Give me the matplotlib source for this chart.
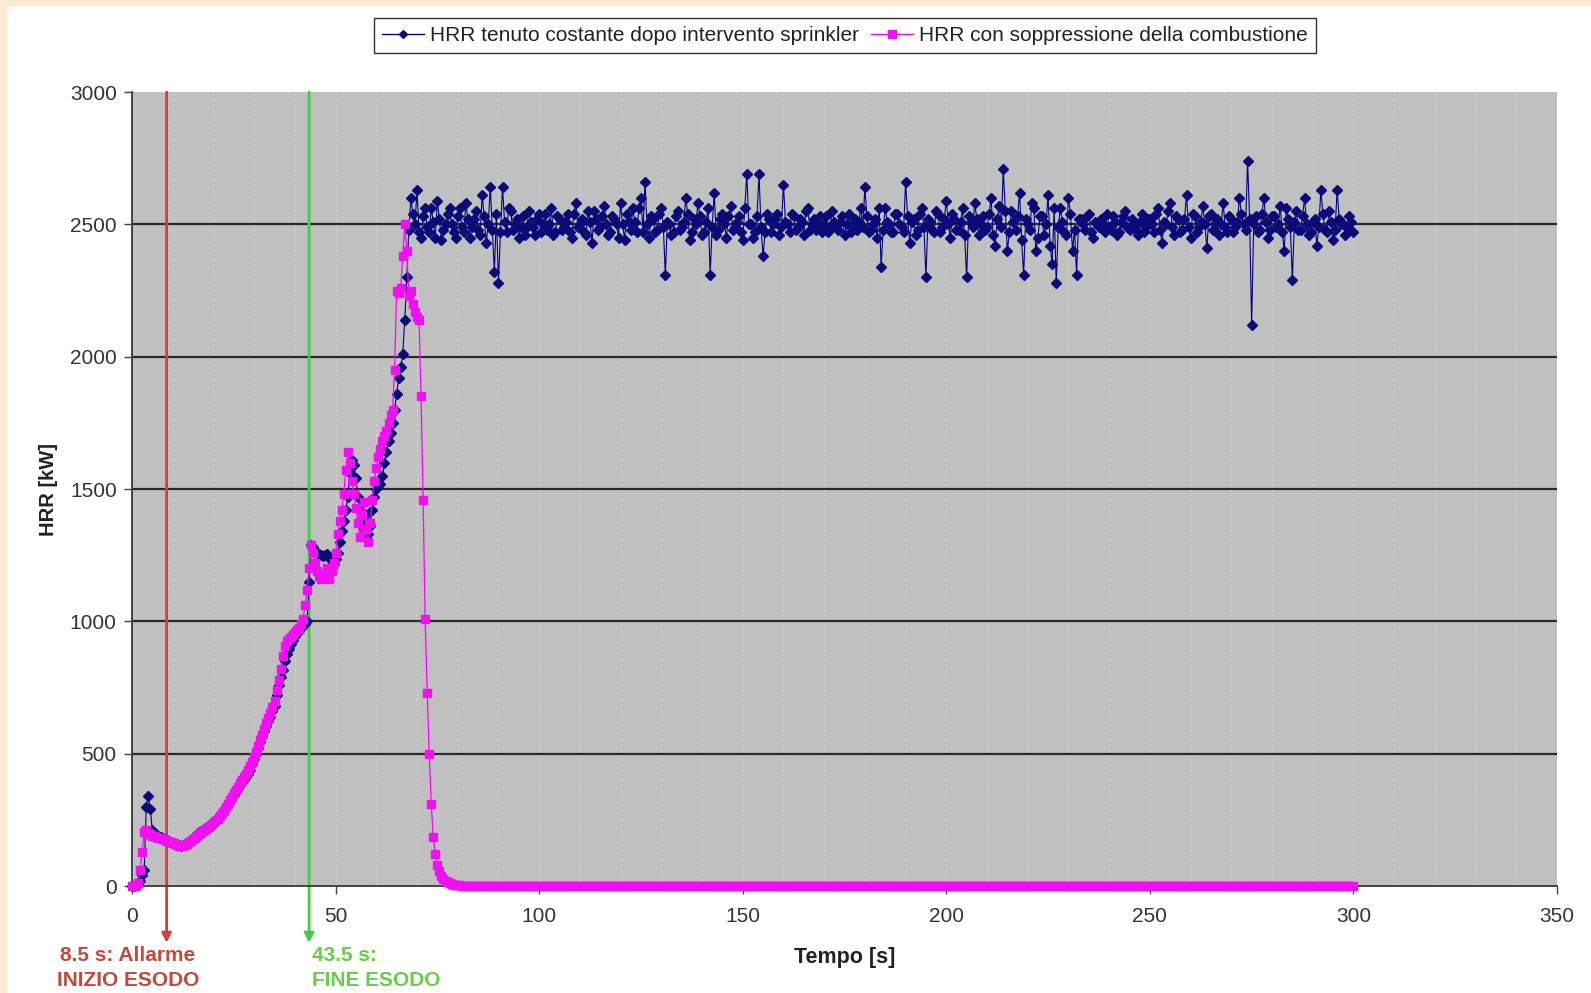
import numpy as np
import matplotlib
matplotlib.use("Agg")
import matplotlib.pyplot as plt
from matplotlib.lines import Line2D
from matplotlib.patches import Rectangle

plt.rcParams['font.family'] = ['Liberation Sans', 'DejaVu Sans']

# ---- data -------------------------------------------------------------
# Growth phase, one sample every 0.5 s starting at t = 0 s
hrr_sprinkler_early = [
    0, 0, 5, 10, 20, 40, 60, 300, 340, 290,
    210, 200, 195, 190, 185, 182, 178, 175, 170, 167,
    163, 160, 158, 155, 153, 155, 158, 162, 168, 175,
    182, 190, 197, 203, 208, 213, 218, 222, 228, 235,
    243, 250, 258, 267, 276, 286, 298, 310, 322, 335,
    345, 358, 370, 382, 393, 400, 410, 425, 440, 460,
    480, 500, 520, 545, 565, 585, 605, 625, 640, 660,
    680, 720, 760, 790, 815, 850, 875, 895, 915, 930,
    945, 955, 965, 975, 985, 990, 1000, 1150, 1290, 1280,
    1265, 1260, 1255, 1250, 1245, 1250, 1255, 1240, 1200, 1215,
    1235, 1260, 1300, 1340, 1380, 1420, 1470, 1560, 1610, 1590,
    1540, 1470, 1420, 1380, 1350, 1400, 1330, 1360, 1420, 1470,
    1500, 1510, 1520, 1550, 1600, 1640, 1680, 1710, 1750, 1800,
    1860, 1920, 1960, 2010, 2140, 2300,
]
hrr_soppressione_early = [
    0, 0, 0, 10, 60, 130, 205, 210, 200, 195,
    190, 188, 185, 182, 180, 177, 174, 171, 168, 165,
    161, 158, 155, 153, 152, 153, 156, 160, 165, 171,
    177, 183, 190, 196, 202, 208, 213, 218, 224, 231,
    238, 246, 255, 264, 274, 285, 297, 310, 324, 338,
    350, 362, 375, 388, 400, 412, 425, 438, 452, 470,
    488, 508, 528, 550, 572, 594, 616, 636, 655, 675,
    700, 740, 780, 820, 870, 905, 925, 935, 940, 950,
    958, 966, 975, 990, 1010, 1060, 1120, 1200, 1290, 1260,
    1220, 1190, 1170, 1160, 1170, 1180, 1200, 1160, 1190, 1220,
    1260, 1330, 1380, 1420, 1480, 1570, 1640, 1600, 1530, 1480,
    1430, 1370, 1320, 1400, 1450, 1350, 1300, 1370, 1460, 1530,
    1580, 1620, 1650, 1680, 1700, 1720, 1750, 1780, 1800, 1950,
    2250, 2240, 2260, 2380, 2500, 2400,
]

# Sprinkler case, HRR held constant: samples at whole seconds from t = 68 s
hrr_sprinkler_plateau_whole = [
    2480, 2540, 2630, 2450, 2560, 2470, 2510, 2590, 2440, 2500,
    2560, 2470, 2530, 2490, 2580, 2450, 2520, 2480, 2610, 2430,
    2640, 2320, 2280, 2640, 2470, 2550, 2500, 2450, 2530, 2490,
    2510, 2460, 2540, 2500, 2480, 2560, 2470, 2520, 2490, 2540,
    2450, 2580, 2500, 2470, 2550, 2430, 2520, 2490, 2570, 2460,
    2530, 2500, 2580, 2440, 2510, 2560, 2470, 2600, 2660, 2450,
    2520, 2480, 2560, 2310, 2500, 2470, 2550, 2490, 2600, 2440,
    2520, 2580, 2460, 2510, 2310, 2620, 2480, 2540, 2450, 2570,
    2490, 2530, 2440, 2690, 2500, 2470, 2690, 2380, 2540, 2470,
    2520, 2460, 2650, 2500, 2540, 2480, 2520, 2460, 2560, 2500,
    2480, 2530, 2500, 2470, 2550, 2490, 2510, 2460, 2540, 2500,
    2480, 2560, 2640, 2470, 2500, 2450, 2340, 2560, 2500, 2470,
    2540, 2490, 2660, 2430, 2520, 2480, 2560, 2300, 2510, 2470,
    2540, 2490, 2590, 2450, 2520, 2480, 2560, 2300, 2510, 2580,
    2460, 2530, 2490, 2600, 2420, 2570, 2710, 2400, 2550, 2480,
    2620, 2310, 2500, 2580, 2400, 2530, 2460, 2610, 2350, 2280,
    2560, 2470, 2600, 2400, 2310, 2520, 2480, 2540, 2450, 2500,
    2520, 2470, 2490, 2530, 2460, 2510, 2550, 2480, 2500, 2460,
    2540, 2490, 2520, 2470, 2560, 2430, 2500, 2580, 2460, 2520,
    2480, 2610, 2450, 2530, 2490, 2570, 2410, 2540, 2500, 2460,
    2580, 2470, 2520, 2490, 2600, 2500, 2740, 2120, 2530, 2480,
    2600, 2450, 2530, 2490, 2570, 2400, 2520, 2290, 2550, 2480,
    2600, 2460, 2510, 2420, 2630, 2480, 2550, 2440, 2630, 2500,
    2460, 2530, 2470,
]
# ... and the samples in between (t = 68.5 s, 69.5 s, ...)
hrr_sprinkler_plateau_half = [
    2600, 2500, 2470, 2530, 2490, 2560, 2450, 2520, 2480, 2540,
    2500, 2450, 2560, 2470, 2520, 2490, 2550, 2460, 2530, 2500,
    2480, 2540, 2470, 2510, 2560, 2480, 2520, 2490, 2460, 2550,
    2490, 2520, 2470, 2540, 2500, 2460, 2530, 2480, 2510, 2470,
    2540, 2490, 2520, 2460, 2510, 2550, 2480, 2530, 2500, 2470,
    2520, 2450, 2500, 2540, 2480, 2510, 2560, 2470, 2500, 2530,
    2470, 2540, 2490, 2510, 2460, 2530, 2480, 2510, 2540, 2470,
    2500, 2530, 2470, 2560, 2490, 2460, 2520, 2500, 2530, 2480,
    2510, 2470, 2560, 2500, 2450, 2530, 2490, 2470, 2520, 2500,
    2540, 2490, 2510, 2470, 2530, 2490, 2510, 2550, 2480, 2520,
    2500, 2470, 2530, 2490, 2510, 2480, 2530, 2500, 2470, 2520,
    2510, 2490, 2530, 2480, 2520, 2560, 2480, 2510, 2470, 2540,
    2500, 2470, 2530, 2510, 2460, 2540, 2490, 2520, 2480, 2550,
    2470, 2520, 2500, 2540, 2480, 2510, 2460, 2530, 2490, 2520,
    2500, 2480, 2540, 2460, 2520, 2490, 2550, 2470, 2510, 2530,
    2440, 2520, 2480, 2560, 2450, 2530, 2500, 2420, 2560, 2490,
    2510, 2460, 2540, 2480, 2520, 2500, 2530, 2470, 2510, 2490,
    2500, 2540, 2480, 2510, 2470, 2530, 2490, 2520, 2480, 2510,
    2470, 2520, 2500, 2540, 2480, 2510, 2550, 2490, 2530, 2470,
    2520, 2490, 2540, 2470, 2510, 2500, 2530, 2480, 2520, 2500,
    2490, 2530, 2470, 2510, 2540, 2480, 2520, 2500, 2470, 2540,
    2510, 2480, 2530, 2500, 2470, 2560, 2490, 2510, 2480, 2530,
    2500, 2470, 2520, 2490, 2540, 2470, 2510, 2480, 2520, 2500,
    2490, 2510,
]

# Suppression case: decay after sprinkler activation, every 0.5 s from t = 68 s
hrr_soppressione_decay = [
    2230, 2250, 2200, 2170, 2150, 2140, 1850, 1460, 1010, 730,
    500, 310, 185, 120, 80, 55, 38, 27, 19, 14,
    10, 7, 5, 4, 3, 2, 1, 1, 0,
]
hrr_soppressione_tail_value = 0   # extinguished until end of simulation

t_start_plateau = 68.0
t_end = 300.0
t_allarme = 8.5
t_fine_esodo = 43.5

x_ticks = [0, 50, 100, 150, 200, 250, 300, 350]
y_ticks = [0, 500, 1000, 1500, 2000, 2500, 3000]

label_sprinkler = "HRR tenuto costante dopo intervento sprinkler"
label_soppressione = "HRR con soppressione della combustione"

# ---- series assembly ---------------------------------------------------
t_early = 0.5 * np.arange(len(hrr_sprinkler_early))

n_plateau = len(hrr_sprinkler_plateau_whole) + len(hrr_sprinkler_plateau_half)
t_plateau = t_start_plateau + 0.5 * np.arange(n_plateau)
y_plateau = np.empty(n_plateau)
y_plateau[0::2] = hrr_sprinkler_plateau_whole
y_plateau[1::2] = hrr_sprinkler_plateau_half

t_decay = t_start_plateau + 0.5 * np.arange(len(hrr_soppressione_decay))
t_tail = np.arange(t_decay[-1] + 0.5, t_end + 0.01, 0.5)

t_sprinkler = np.concatenate([t_early, t_plateau])
y_sprinkler = np.concatenate([hrr_sprinkler_early, y_plateau])
t_soppr = np.concatenate([t_early, t_decay, t_tail])
y_soppr = np.concatenate([hrr_soppressione_early, hrr_soppressione_decay,
                          np.full(len(t_tail), hrr_soppressione_tail_value)])

# ---- figure --------------------------------------------------------------
W, H = 1591, 993
fig = plt.figure(figsize=(W / 100, H / 100), dpi=100)
fig.patch.set_facecolor('white')

cream = '#FBEBD3'
fig.patches.append(Rectangle((0, 1 - 6 / H), 1, 6 / H, transform=fig.transFigure,
                             facecolor=cream, edgecolor='none', zorder=0))
fig.patches.append(Rectangle((0, 0), 7 / W, 1, transform=fig.transFigure,
                             facecolor=cream, edgecolor='none', zorder=0))

left, right, top, bottom = 132, 1557, 92, 886
ax = fig.add_axes([left / W, 1 - bottom / H, (right - left) / W, (bottom - top) / H])
ax.set_facecolor('#C0C0C0')
ax.set_xlim(0, 350)
ax.set_ylim(0, 3000)

# grid: faint dashed verticals every 10 s, dark horizontals
for xv in np.arange(10, 350, 10):
    ax.axvline(xv, color='#D3D3D3', lw=0.9, ls=(0, (2, 2)), zorder=0.5)
for yv in y_ticks[1:-1]:
    ax.axhline(yv, color='#2A2A2A', lw=1.6, zorder=0.6)

for side in ('top', 'right'):
    ax.spines[side].set_visible(False)
for side in ('left', 'bottom'):
    ax.spines[side].set_color('#444444')
    ax.spines[side].set_linewidth(1.4)

ax.set_xticks(x_ticks)
ax.set_yticks(y_ticks)
ax.tick_params(axis='both', direction='out', length=6, width=1, color='#444444',
               labelsize=15, labelcolor='#333333')
ax.tick_params(axis='x', pad=9)
ax.tick_params(axis='y', pad=5)

# series
ax.plot(t_sprinkler, y_sprinkler, color='#000080', lw=0.8, marker='D',
        markersize=4.8, markerfacecolor='#0A0A78', markeredgecolor='#0A0A78',
        zorder=3, clip_on=False)
ax.plot(t_soppr, y_soppr, color='#FF00FF', lw=0.9, marker='s',
        markersize=6, markerfacecolor='#F010F0', markeredgecolor='#F010F0',
        zorder=4, clip_on=False)

# event markers: vertical lines with arrow below the axis
ax.annotate('', xy=(t_allarme, -215), xytext=(t_allarme, 3000),
            arrowprops=dict(arrowstyle='-|>', color='#D04040', lw=2.0,
                            mutation_scale=14, shrinkA=0, shrinkB=0),
            annotation_clip=False, zorder=2)
ax.annotate('', xy=(t_fine_esodo, -215), xytext=(t_fine_esodo, 3000),
            arrowprops=dict(arrowstyle='-|>', color='#44CC44', lw=2.0,
                            mutation_scale=14, shrinkA=0, shrinkB=0),
            annotation_clip=False, zorder=2)

red_txt = '#C04A3C'
green_txt = '#6ACD4A'
fs_ann = 15
fig.text(60 / W, 1 - 946 / H, "8.5 s: Allarme", color=red_txt, fontsize=fs_ann,
         fontweight='bold', ha='left', va='top')
fig.text(57 / W, 1 - 971 / H, "INIZIO ESODO", color=red_txt, fontsize=fs_ann,
         fontweight='bold', ha='left', va='top')
fig.text(312 / W, 1 - 946 / H, "43.5 s:", color=green_txt, fontsize=fs_ann,
         fontweight='bold', ha='left', va='top')
fig.text(312 / W, 1 - 971 / H, "FINE ESODO", color=green_txt, fontsize=fs_ann,
         fontweight='bold', ha='left', va='top')

# axis titles
fig.text(845 / W, 1 - 957 / H, "Tempo [s]", fontsize=15.5, fontweight='bold',
         color='#222222', ha='center', va='center')
fig.text(48 / W, 1 - 490 / H, "HRR [kW]", fontsize=14.5, fontweight='bold',
         color='#222222', ha='center', va='center', rotation=90)

# legend
handles = [
    Line2D([], [], color='#000080', lw=1, marker='D', markersize=4.5,
           markerfacecolor='#0A0A78', markeredgecolor='#0A0A78'),
    Line2D([], [], color='#FF00FF', lw=1, marker='s', markersize=5.5,
           markerfacecolor='#F010F0', markeredgecolor='#F010F0'),
]
leg = fig.legend(handles, [label_sprinkler, label_soppressione], ncol=2,
                 loc='center', bbox_to_anchor=(845 / W, 1 - 35.5 / H),
                 frameon=True, fancybox=False, edgecolor='black',
                 fontsize=15, handlelength=2.0, handletextpad=0.3,
                 columnspacing=0.6, borderpad=0.4)
leg.get_frame().set_linewidth(1.0)
for txt in leg.get_texts():
    txt.set_color('#222222')

fig.savefig('out.png', dpi=100)
